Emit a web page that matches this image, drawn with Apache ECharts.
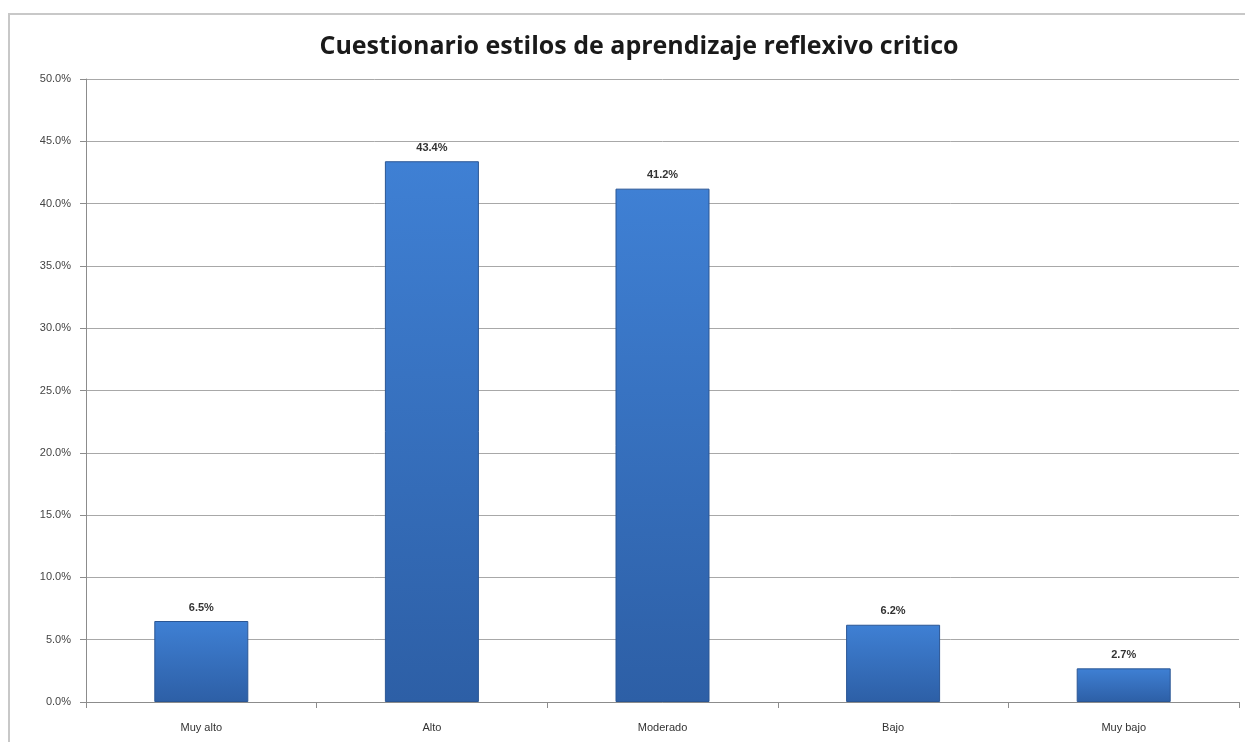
<!DOCTYPE html>
<html><head><meta charset="utf-8">
<script src="https://cdn.jsdelivr.net/npm/echarts@6/dist/echarts.min.js"></script>
<style>html,body{margin:0;padding:0;background:#fff}#c{width:1245px;height:742px}</style>
</head><body><div id="c"></div>
<script>
const categories = ['Muy alto', 'Alto', 'Moderado', 'Bajo', 'Muy bajo'];
const values = [6.5, 43.4, 41.2, 6.2, 2.7];
const chart = echarts.init(document.getElementById('c'));
chart.setOption({
  animation: false,
  backgroundColor: '#ffffff',
  graphic: [{
    type: 'rect', shape: {x: 9, y: 14, width: 1240, height: 740},
    style: {fill: 'none', stroke: '#c8c8c8', lineWidth: 2}, silent: true
  }],
  title: {
    text: 'Cuestionario estilos de aprendizaje reflexivo critico',
    left: 634, top: 29, textAlign: 'center',
    textStyle: {fontFamily: 'Open Sans', fontWeight: 'bold', fontSize: 25, color: '#1a1a1a'}
  },
  grid: {left: 86, right: 6, top: 79, bottom: 40},
  xAxis: {
    type: 'category', data: categories,
    axisLine: {lineStyle: {color: '#8c8c8c'}},
    axisTick: {show: true, length: 6, lineStyle: {color: '#8c8c8c'}},
    axisLabel: {color: '#333', fontSize: 11, fontFamily: 'Liberation Sans', margin: 20}
  },
  yAxis: {
    type: 'value', min: 0, max: 50, interval: 5,
    axisLine: {show: true, lineStyle: {color: '#8c8c8c'}},
    axisTick: {show: true, length: 6, lineStyle: {color: '#8c8c8c'}},
    splitLine: {lineStyle: {color: '#a8a8a8'}},
    axisLabel: {color: '#444', fontSize: 11, fontFamily: 'Liberation Sans', margin: 15,
      formatter: v => v.toFixed(1) + '%'}
  },
  series: [{
    type: 'bar', data: values, barWidth: 94,
    itemStyle: {
      color: new echarts.graphic.LinearGradient(0, 0, 0, 1, [
        {offset: 0, color: '#3f80d4'},
        {offset: 1, color: '#2d5fa6'}
      ]),
      borderColor: '#2a5694', borderWidth: 1
    },
    label: {show: true, position: 'top', distance: 8, formatter: p => p.value.toFixed(1) + '%',
      color: '#333', fontWeight: 'bold', fontSize: 11, fontFamily: 'Liberation Sans'}
  }]
});
</script></body></html>
